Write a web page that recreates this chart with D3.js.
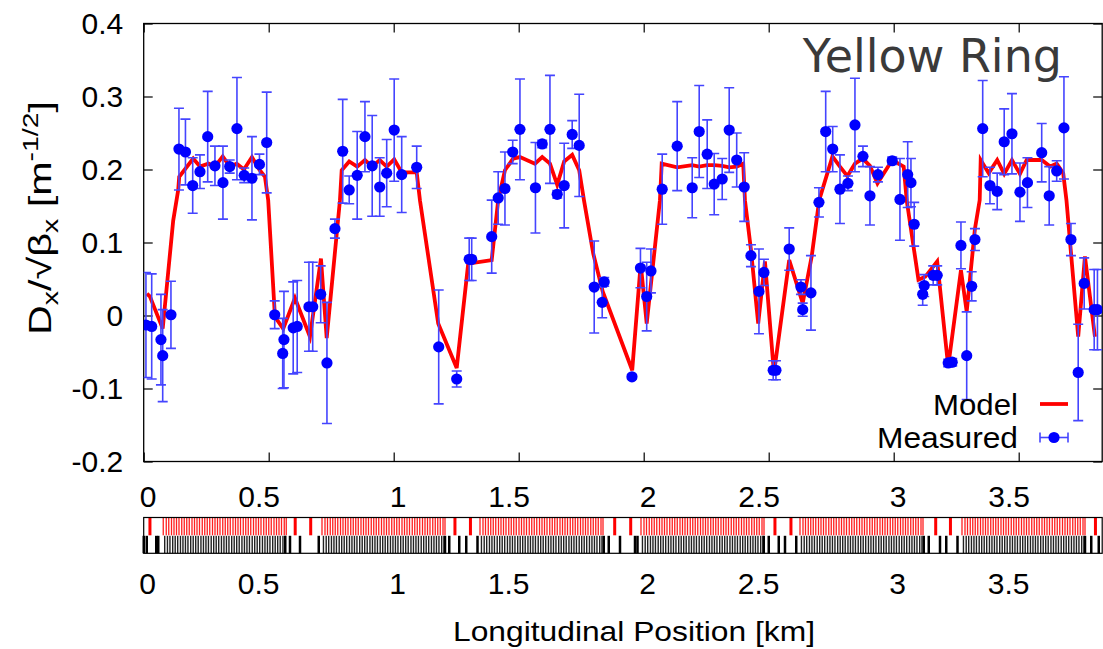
<!DOCTYPE html>
<html><head><meta charset="utf-8">
<script src="https://cdn.jsdelivr.net/npm/d3@7"></script>
<style>body{margin:0;background:#fff}</style>
</head><body>
<svg id="c" width="1103" height="649" xmlns="http://www.w3.org/2000/svg"></svg>
<script>
// ---- data ----
const measS = [0.009,0.032,0.069,0.076,0.109,0.141,0.167,0.196,0.225,0.256,0.285,0.317,0.344,0.373,0.402,0.433,0.463,0.492,
0.524,0.556,0.561,0.598,0.614,0.661,0.676,0.708,0.733,0.765,0.796,0.822,0.854,0.885,0.914,0.944,0.972,1.002,1.032,1.092,
1.180,1.252,1.302,1.312,1.392,1.418,1.445,1.476,1.505,1.567,1.594,1.625,1.654,1.682,1.714,1.742,
1.802,1.834,1.842,1.953,1.987,2.012,2.029,2.074,2.134,2.194,2.222,2.254,2.282,2.314,2.342,2.372,2.402,
2.429,2.461,2.481,2.518,2.529,2.582,2.629,2.636,2.669,2.701,2.728,2.756,2.785,2.817,2.845,2.877,2.905,2.937,2.994,3.025,3.056,3.069,
3.082,3.116,3.122,3.158,3.174,3.218,3.234,3.269,3.292,3.312,3.325,3.356,3.385,3.414,3.442,3.473,3.505,3.535,3.592,3.622,3.652,3.681,
3.709,3.738,3.762,3.802,3.815];
const measV = [-0.013,-0.015,-0.033,-0.055,0.001,0.228,0.224,0.178,0.197,0.245,0.205,0.182,0.204,0.256,0.192,0.188,0.207,0.237,
0.001,-0.052,-0.033,-0.017,-0.015,0.012,0.012,0.029,-0.065,0.119,0.225,0.172,0.192,0.245,0.205,0.176,0.195,0.254,0.193,0.203,
-0.043,-0.087,0.077,0.077,0.108,0.161,0.174,0.224,0.255,0.175,0.235,0.255,0.166,0.178,0.248,0.233,
0.039,0.018,0.046,-0.084,0.065,0.026,0.061,0.173,0.232,0.175,0.252,0.221,0.180,0.187,0.254,0.213,0.176,
0.082,0.033,0.059,-0.075,-0.075,0.091,0.039,0.008,0.031,0.155,0.252,0.228,0.173,0.181,0.261,0.218,0.164,0.193,0.212,0.159,0.193,0.182,
0.125,0.029,0.041,0.055,0.055,-0.065,-0.064,0.096,-0.055,0.040,0.104,0.256,0.178,0.170,0.238,0.249,0.169,0.182,0.223,0.164,0.198,0.257,
0.104,-0.078,0.044,0.008,0.008];
const measE = [0.072,0.072,0.062,0.063,0.046,0.056,0.045,0.038,0.023,0.062,0.027,0.050,0.009,0.070,0.010,0.057,0.014,0.069,
0.019,0.048,0.066,0.063,0.063,0.061,0.061,0.039,0.083,0.013,0.071,0.019,0.060,0.048,0.069,0.040,0.046,0.070,0.052,0.029,
0.078,0.011,0.029,0.029,0.050,0.036,0.050,0.016,0.069,0.062,0.005,0.074,0.005,0.058,0.019,0.070,
0.063,0.021,0.006,0.003,0.027,0.047,0.030,0.048,0.061,0.041,0.063,0.047,0.042,0.028,0.058,0.037,0.047,
0.015,0.058,0.018,0.013,0.013,0.029,0.010,0.009,0.051,0.020,0.055,0.031,0.047,0.010,0.064,0.014,0.040,0.010,0.005,0.056,0.045,0.033,
0.030,0.015,0.015,0.013,0.013,0.005,0.005,0.032,0.060,0.020,0.015,0.066,0.025,0.025,0.045,0.055,0.040,0.034,0.040,0.040,0.014,0.070,
0.022,0.066,0.035,0.055,0.055];

const modelS = [0.013,0.025,0.076,0.118,0.138,0.142,0.198,0.225,0.259,0.285,0.316,0.345,0.372,0.401,0.433,0.462,0.485,0.498,0.525,0.558,0.605,0.665,0.709,0.732,0.785,0.792,
0.822,0.854,0.885,0.914,0.944,0.972,1.002,1.032,1.092,1.105,1.178,1.252,1.298,1.392,1.418,1.445,1.478,1.505,1.565,1.594,1.625,1.654,1.682,1.714,1.742,1.761,1.798,1.836,
1.954,1.988,2.012,2.065,2.072,2.134,2.194,2.222,2.254,2.282,2.314,2.342,2.372,2.398,2.405,2.429,2.458,2.485,2.521,2.582,2.636,2.672,2.702,2.755,2.785,2.815,2.845,2.876,
2.905,2.935,2.994,3.040,3.052,3.099,3.126,3.174,3.218,3.269,3.292,3.325,3.344,3.348,3.380,3.414,3.442,3.473,3.505,3.532,3.592,3.626,3.652,3.678,3.691,3.738,3.765,3.805];
const modelV = [0.030,0.026,-0.018,0.130,0.172,0.190,0.215,0.204,0.208,0.204,0.218,0.204,0.208,0.200,0.217,0.200,0.190,0.158,-0.002,-0.018,0.024,-0.029,0.078,-0.031,0.158,0.199,
0.211,0.204,0.213,0.204,0.213,0.204,0.214,0.196,0.196,0.158,-0.011,-0.072,0.071,0.076,0.158,0.199,0.215,0.217,0.208,0.217,0.208,0.179,0.211,0.220,0.199,0.158,0.085,0.033,
-0.075,0.071,-0.011,0.158,0.208,0.203,0.206,0.204,0.206,0.206,0.205,0.203,0.204,0.208,0.158,0.090,-0.011,0.074,-0.079,0.076,0.017,0.081,0.158,0.218,0.204,0.191,0.208,0.215,
0.205,0.181,0.213,0.204,0.158,0.049,0.053,0.074,-0.070,0.062,0.005,0.119,0.158,0.213,0.195,0.213,0.194,0.213,0.194,0.213,0.213,0.204,0.208,0.195,0.158,-0.029,0.081,-0.029];

const yTicks = [-0.2,-0.1,0,0.1,0.2,0.3,0.4];
const xTicks = [0,0.5,1,1.5,2,2.5,3,3.5];

// lattice (km): insertion dipoles (thick red), arc starts, and element offsets inside an arc
const irDipoles = [0.025,0.606,0.668,1.245,1.307,1.884,1.948,2.525,2.589,3.168,3.227,3.807];
const arcStarts = [0.078,0.713,1.345,1.989,2.625,3.273];
const arcDipoleOffsets = [0,0.012,0.022,0.033,0.043,0.053,0.063,0.074,0.084,0.094,0.104,0.115,0.125,0.135,0.145,0.156,0.166,0.176,0.186,
0.197,0.207,0.217,0.227,0.238,0.248,0.258,0.268,0.279,0.289,0.299,0.309,0.320,0.330,0.340,0.350,0.361,0.371,0.381,0.391,0.402,0.412,0.422,0.432,0.443,0.453,0.463,0.473,0.484,0.492];
const arcQuadOffsets = [0.006,0.017,0.027,0.038,0.048,0.058,0.069,0.079,0.089,0.099,0.110,0.120,0.130,0.140,0.151,0.161,0.171,0.181,0.192,
0.202,0.212,0.222,0.233,0.243,0.253,0.263,0.274,0.284,0.294,0.304,0.315,0.325,0.335,0.345,0.356,0.366,0.376,0.386,0.397,0.407,0.417,0.427,0.438,0.448,0.458,0.468,0.479,0.488];
const irQuads = [0.0,0.012,0.05,0.058,0.566,0.585,0.625,0.70,1.205,1.222,1.262,1.29,1.335,1.84,1.86,1.905,1.965,1.975,2.48,2.50,2.54,2.565,2.61,3.12,3.14,3.185,3.21,3.255,3.765,3.79,3.82];

// ---- drawing ----
const svg = d3.select("#c");
const x = d3.scaleLinear().domain([0, 3.834]).range([143.7, 1102.2]);
const y = d3.scaleLinear().domain([-0.2, 0.4]).range([461.5, 23.5]);
const FONT = "'Liberation Sans', Arial, Helvetica, sans-serif";

svg.append("defs").append("clipPath").attr("id","pc").append("rect")
  .attr("x",143.7).attr("y",23.5).attr("width",958.5).attr("height",438);

function styleAxis(g, withLabels){
  g.select(".domain").remove();
  g.selectAll(".tick line").attr("stroke","#000").attr("stroke-width",1.2);
  g.selectAll("text").attr("font-family",FONT).attr("font-size",30).attr("fill","#000");
  if(!withLabels) g.selectAll("text").remove();
}
const fmt = d => d === 0 ? "0" : d3.format(".1f")(d).replace("−","-");
const fmtX = d => String(d);
// label offset as in the reference (decimal labels sit slightly left, integers slightly right)
const lblDx = d => String(d).includes(".") ? -10 : 4;

svg.append("g").attr("transform","translate(143.7,0)")
  .call(d3.axisLeft(y).tickValues(yTicks).tickSize(-9).tickPadding(20.5).tickFormat(fmt))
  .call(g=>styleAxis(g,true));
svg.append("g").attr("transform","translate(1102.2,0)")
  .call(d3.axisRight(y).tickValues(yTicks).tickSize(-9))
  .call(g=>styleAxis(g,false));
svg.append("g").attr("transform","translate(0,23.5)")
  .call(d3.axisTop(x).tickValues(xTicks).tickSize(-9))
  .call(g=>styleAxis(g,false));
svg.append("g").attr("transform","translate(0,461.5)")
  .call(d3.axisBottom(x).tickValues(xTicks).tickSize(-9).tickPadding(24).tickFormat(fmtX))
  .call(g=>styleAxis(g,true))
  .call(g=>g.selectAll(".tick text").attr("dx",d=>lblDx(d)));

// frame
svg.append("rect").attr("x",143.7).attr("y",23.5).attr("width",958.5).attr("height",438)
  .attr("fill","none").attr("stroke","#000").attr("stroke-width",1.3);

// Yellow Ring
svg.append("text").attr("x",1062).attr("y",72).attr("text-anchor","end")
  .attr("font-family","'DejaVu Sans', sans-serif").attr("font-size",46).attr("fill","#3a3a3a")
  .text("Yellow Ring");

const data = measS.map((s,i)=>({s, v:measV[i], e:measE[i]}));
const pg = svg.append("g").attr("clip-path","url(#pc)");
pg.append("path").datum(modelS.map((s,i)=>[s,modelV[i]]))
  .attr("d", d3.line().x(d=>x(d[0])).y(d=>y(d[1])))
  .attr("fill","none").attr("stroke","#ff0000").attr("stroke-width",3.8).attr("stroke-linejoin","miter");
const EB = "#4545ff";
const eg = pg.append("g").attr("stroke",EB).attr("stroke-width",1.6);
eg.selectAll("line.v").data(data).join("line").attr("class","v")
  .attr("x1",d=>x(d.s)).attr("x2",d=>x(d.s)).attr("y1",d=>y(d.v-d.e)).attr("y2",d=>y(d.v+d.e));
eg.selectAll("line.t").data(data).join("line").attr("class","t")
  .attr("x1",d=>x(d.s)-5).attr("x2",d=>x(d.s)+5).attr("y1",d=>y(d.v+d.e)).attr("y2",d=>y(d.v+d.e));
eg.selectAll("line.b").data(data).join("line").attr("class","b")
  .attr("x1",d=>x(d.s)-5).attr("x2",d=>x(d.s)+5).attr("y1",d=>y(d.v-d.e)).attr("y2",d=>y(d.v-d.e));
pg.append("g").selectAll("circle").data(data).join("circle")
  .attr("cx",d=>x(d.s)).attr("cy",d=>y(d.v)).attr("r",5.6).attr("fill","#0000ff");

// legend
svg.append("text").attr("x",1018).attr("y",404).attr("dy","0.35em").attr("text-anchor","end")
  .attr("font-family",FONT).attr("font-size",30).attr("textLength",85).attr("lengthAdjust","spacingAndGlyphs").text("Model");
svg.append("line").attr("x1",1040).attr("x2",1068).attr("y1",404).attr("y2",404)
  .attr("stroke","#ff0000").attr("stroke-width",3.8);
svg.append("text").attr("x",1018).attr("y",437.5).attr("dy","0.35em").attr("text-anchor","end")
  .attr("font-family",FONT).attr("font-size",30).attr("textLength",141).attr("lengthAdjust","spacingAndGlyphs").text("Measured");
const lg = svg.append("g").attr("stroke",EB).attr("stroke-width",1.6);
lg.append("line").attr("x1",1040).attr("x2",1068).attr("y1",437.5).attr("y2",437.5);
lg.append("line").attr("x1",1040).attr("x2",1040).attr("y1",432.5).attr("y2",442.5);
lg.append("line").attr("x1",1068).attr("x2",1068).attr("y1",432.5).attr("y2",442.5);
svg.append("circle").attr("cx",1054).attr("cy",437.5).attr("r",5.6).attr("fill","#0000ff");

// y label
const yl = svg.append("text").attr("transform","translate(51,218) rotate(-90)")
  .attr("text-anchor","middle").attr("font-family",FONT).attr("font-size",32).attr("fill","#000")
  .attr("textLength",234).attr("lengthAdjust","spacingAndGlyphs");
yl.append("tspan").text("D");
yl.append("tspan").attr("font-size",22).attr("dy",7).text("x");
yl.append("tspan").attr("dy",-7).text("/√β");
yl.append("tspan").attr("font-size",22).attr("dy",7).text("x");
yl.append("tspan").attr("dy",-7).text(" [m");
yl.append("tspan").attr("font-size",22).attr("dy",-13).text("-1/2");
yl.append("tspan").attr("dy",13).text("]");

// lattice strip
const L = svg.append("g");
const top0 = 517.5, mid = 535.3, bot = 553.3;
const redPos = [];
arcStarts.forEach(a => arcDipoleOffsets.forEach(o => redPos.push(a+o)));
L.selectAll("rect.rd").data(redPos).join("rect").attr("class","rd")
  .attr("x",d=>x(d)-0.6).attr("width",1.3).attr("y",top0).attr("height",mid-top0).attr("fill","#ff2020");
L.selectAll("rect.ri").data(irDipoles).join("rect").attr("class","ri")
  .attr("x",d=>x(d)-1.5).attr("width",3).attr("y",top0).attr("height",mid-top0).attr("fill","#ff0000");
const blkPos = [];
arcStarts.forEach(a => arcQuadOffsets.forEach(o => blkPos.push(a+o)));
L.selectAll("rect.bq").data(blkPos).join("rect").attr("class","bq")
  .attr("x",d=>x(d)-0.7).attr("width",1.4).attr("y",mid+0.5).attr("height",bot-mid-0.5).attr("fill","#222");
L.selectAll("rect.bi").data(irQuads).join("rect").attr("class","bi")
  .attr("x",d=>x(d)-1.2).attr("width",2.5).attr("y",mid+0.5).attr("height",bot-mid-0.5).attr("fill","#000");
L.append("rect").attr("x",143.7).attr("y",top0).attr("width",958.5).attr("height",bot-top0)
  .attr("fill","none").attr("stroke","#000").attr("stroke-width",1.2);

// lattice axis labels
svg.append("g").selectAll("text").data(xTicks).join("text")
  .attr("x",d=>x(d)+lblDx(d)).attr("y",583).attr("dy","0.35em").attr("text-anchor","middle")
  .attr("font-family",FONT).attr("font-size",30).text(fmtX);

svg.append("text").attr("x",634).attr("y",641).attr("text-anchor","middle")
  .attr("font-family",FONT).attr("font-size",28).attr("textLength",362).attr("lengthAdjust","spacingAndGlyphs")
  .text("Longitudinal Position [km]");
</script>
</body></html>
